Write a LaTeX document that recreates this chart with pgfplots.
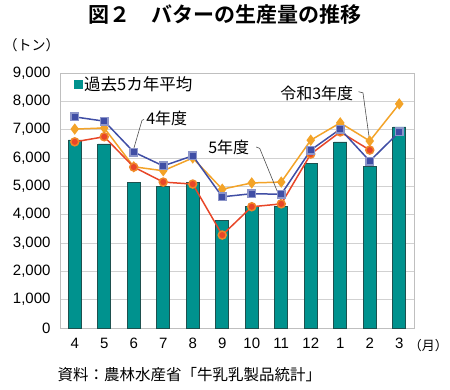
\documentclass[border=0pt]{standalone}
\usepackage{pgfplots}
\pgfplotsset{compat=1.18}
\usepackage{fontspec}
\setmainfont{Liberation Sans}
\newfontfamily\jp{Noto Sans CJK JP}
\newfontfamily\jpb{Noto Sans CJK JP Bold}
\definecolor{barc}{RGB}{0,146,142}
\definecolor{bard}{RGB}{30,80,78}
\definecolor{blu}{RGB}{64,78,165}
\definecolor{org}{RGB}{243,163,40}
\definecolor{rd}{RGB}{232,70,40}
\begin{document}
\begin{tikzpicture}
\useasboundingbox (0,0) rectangle (450bp,390bp);
\node[anchor=center] at (225bp,375bp) {\jpb\fontsize{21bp}{24bp}\selectfont 図２　バターの生産量の推移};
\node[anchor=west] at (0bp,345bp) {\jp\fontsize{14bp}{16bp}\selectfont （トン）};
\node[anchor=east, inner sep=0pt] at (448bp,44bp) {\jp\fontsize{13bp}{16bp}\selectfont （月）};
\node[anchor=west] at (54bp,15bp) {\jp\fontsize{15.5bp}{18bp}\selectfont 資料：農林水産省「牛乳乳製品統計」};
\begin{axis}[
  at={(60bp,62bp)}, anchor=south west,
  scale only axis, width=354bp, height=255bp,
  xmin=-0.5, xmax=11.5, ymin=0, ymax=9000,
  xtick={0,...,11},
  xticklabels={4,5,6,7,8,9,10,11,12,1,2,3},
  ytick={0,1000,...,9000},
  scaled y ticks=false,
  /pgf/number format/assume math mode=true,
  /pgf/number format/1000 sep={,},
  yticklabel style={font=\fontsize{15bp}{18bp}\selectfont, xshift=-6bp},
  xticklabel style={font=\fontsize{15bp}{18bp}\selectfont, yshift=-7bp},
  major tick length=0pt,
  ymajorgrids, grid style={draw=black!18, line width=0.8pt},
  axis line style={draw=black!25, line width=0.8pt},
  clip=false,
  legend style={draw=none, fill=none, at={(axis cs:-0.08,8600)}, anchor=west,
    font=\jp\fontsize{16.5bp}{18bp}\selectfont, inner sep=1pt},
  legend cell align=left,
]
\addplot[ybar, bar width=13bp, fill=barc, draw=bard, line width=0.6pt,
  legend image code/.code={\fill[barc] (0bp,-4bp) rectangle (8bp,4bp);}]
  coordinates {(0,6640) (1,6500) (2,5150) (3,5010) (4,5150) (5,3810) (6,4300) (7,4300) (8,5820) (9,6570) (10,5700) (11,7100)};
\addlegendentry{過去5カ年平均}
\addplot[forget plot, color=org, line width=1.5pt, mark=diamond*, mark size=4.5pt, mark options={fill=org, draw=org}]
  coordinates {(0,7020) (1,7060) (2,5690) (3,5550) (4,6000) (5,4900) (6,5120) (7,5150) (8,6630) (9,7240) (10,6600) (11,7910)};
\addplot[forget plot, color=rd, line width=1.5pt, mark=*, mark size=4pt, mark options={fill=rd, draw=org!70!rd}]
  coordinates {(0,6570) (1,6750) (2,5680) (3,5150) (4,5080) (5,3280) (6,4280) (7,4380) (8,6140) (9,6920) (10,6280)};
\addplot[forget plot, color=blu, line width=1.5pt, mark=square*, mark size=3.8pt, mark options={fill=blu, draw=blu!60!white}]
  coordinates {(0,7450) (1,7300) (2,6210) (3,5720) (4,6080) (5,4630) (6,4740) (7,4720) (8,6280) (9,7020) (10,5890) (11,6920)};
% annotations
\node[anchor=west, inner sep=0pt] at (axis cs:2.42,7410) {\jp\fontsize{16bp}{18bp}\selectfont 4年度};
\draw[black!70, line width=0.6pt] (axis cs:2.35,7360) -- (axis cs:2.28,7330) -- (axis cs:2.0,6330);
\node[anchor=west, inner sep=0pt] at (axis cs:4.52,6390) {\jp\fontsize{16bp}{18bp}\selectfont 5年度};
\draw[black!70, line width=0.6pt] (axis cs:6.15,6390) -- (axis cs:6.27,6340) -- (axis cs:6.98,4530);
\node[anchor=west, inner sep=0pt] at (axis cs:6.96,8290) {\jp\fontsize{16bp}{18bp}\selectfont 令和3年度};
\draw[black!70, line width=0.6pt] (axis cs:9.62,8340) -- (axis cs:9.77,8300) -- (axis cs:9.98,6720);
\end{axis}
\end{tikzpicture}
\end{document}
